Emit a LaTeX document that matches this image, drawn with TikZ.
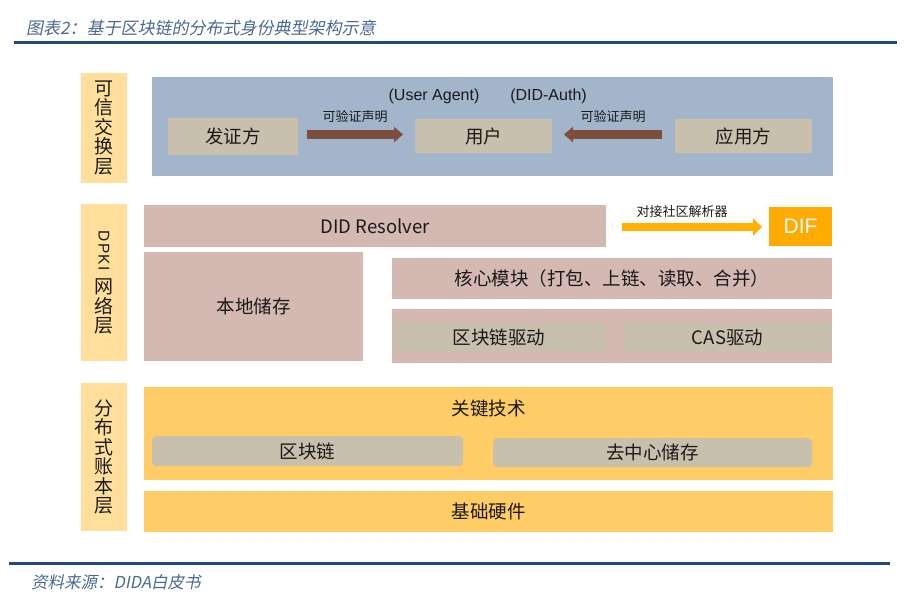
\documentclass[tikz,border=0pt]{standalone}
\usepackage{fontspec}
\usepackage{graphicx}
\setmainfont{Noto Sans CJK SC}
\newfontfamily\arialfont{Liberation Sans}
\newfontfamily\slantfont{Noto Sans CJK SC}[FakeSlant=0.2]
\usetikzlibrary{arrows.meta}
\definecolor{lblY}{HTML}{FFDF99}
\definecolor{blueBg}{HTML}{A3B5CB}
\definecolor{tanB}{HTML}{C8BFAD}
\definecolor{pinkB}{HTML}{D4B8B2}
\definecolor{brownA}{HTML}{7D4E3E}
\definecolor{orangeA}{HTML}{FFB000}
\definecolor{difO}{HTML}{FFAA00}
\definecolor{yelB}{HTML}{FFCC66}
\definecolor{navyL}{HTML}{1F497D}
\definecolor{titleC}{HTML}{4A6890}
\definecolor{txtC}{HTML}{1A1A1A}
\tikzset{
  box/.style={draw=none, inner sep=0pt, outer sep=0pt, text=txtC, font=\fontsize{18.5}{20}\selectfont},
  layerlbl/.style={box, fill=lblY, align=center, font=\fontsize{19}{19.5}\selectfont},
  smalllbl/.style={inner sep=0pt, text=txtC, font=\fontsize{13}{14}\selectfont},
  enlbl/.style={inner sep=0pt, text=txtC, font=\arialfont\fontsize{16}{18}\selectfont},
  brownarrow/.style={draw=brownA, line width=9pt, -{Triangle[width=15pt,length=9pt]}},
  orangearrow/.style={draw=orangeA, line width=8pt, -{Triangle[width=17pt,length=9pt]}},
  rule/.style={draw=navyL, line width=3pt}
}
\begin{document}
\begin{tikzpicture}[x=1pt,y=-1pt]
\useasboundingbox (0,0) rectangle (907,597);
% title and rules
\node[anchor=west, inner sep=0pt, text=titleC, font=\slantfont\fontsize{17}{18}\selectfont] (title) at (26,28) {图表2：基于区块链的分布式身份典型架构示意};
\draw[rule] (14,42) -- (897,42);
\draw[rule] (9,563) -- (890,563);
\node[anchor=west, inner sep=0pt, text=titleC, font=\slantfont\fontsize{16.5}{18}\selectfont] (src) at (31,582) {资料来源：DIDA白皮书};

% layer labels
\node[layerlbl, minimum width=46pt, minimum height=110pt] (L1) at (104,128) {可\\信\\交\\换\\层};
\node[layerlbl, minimum width=46pt, minimum height=157pt] (L2) at (104,282.5) {\rotatebox[origin=c]{-90}{\arialfont\fontsize{15.5}{16}\selectfont D\kern1.5pt P\kern1.5pt K\kern1.5pt I}\\[7pt]网\\络\\层};
\node[layerlbl, minimum width=46pt, minimum height=148pt] (L3) at (104,457) {分\\布\\式\\账\\本\\层};

% trusted exchange layer
\node[box, fill=blueBg, minimum width=681pt, minimum height=99pt] (blue) at (492.5,126.5) {};
\node[box, fill=tanB, minimum width=130pt, minimum height=37pt] (fz) at (233,136) {发证方};
\node[box, fill=tanB, minimum width=137pt, minimum height=34pt] (yh) at (483.5,136) {用户};
\node[box, fill=tanB, minimum width=137pt, minimum height=34pt] (yy) at (743.5,136) {应用方};
\node[enlbl] (ua) at (434,96) {(User Agent)};
\node[enlbl] (da) at (548.5,96) {(DID-Auth)};
\draw[brownarrow] ([xshift=9pt,yshift=1.5pt]fz.east) -- ([xshift=-12pt,yshift=1.5pt]yh.west)
  node[smalllbl, midway, yshift=17.5pt] (vc1) {可验证声明};
\draw[brownarrow] ([xshift=-13pt,yshift=1.5pt]yy.west) -- ([xshift=12pt,yshift=1.5pt]yh.east)
  node[smalllbl, midway, yshift=17.5pt] (vc2) {可验证声明};

% DPKI layer
\node[box, fill=pinkB, minimum width=462pt, minimum height=42pt] (did) at (375,226) {DID Resolver};
\node[box, fill=difO, minimum width=63pt, minimum height=39pt, text=white, font=\arialfont\fontsize{21}{22}\selectfont] (dif) at (800.5,226.5) {DIF};
\draw[orangearrow] ([xshift=16pt,yshift=-1pt]did.east) -- ([xshift=-7pt,yshift=-0.5pt]dif.west)
  node[smalllbl, pos=0.43, yshift=15pt] (jx) {对接社区解析器};
\node[box, fill=pinkB, minimum width=219pt, minimum height=109pt] (bd) at (253.5,306.5) {本地储存};
\node[box, fill=pinkB, minimum width=440pt, minimum height=41pt] (core) at (612,278.5) {核心模块（打包、上链、读取、合并）};
\node[box, fill=pinkB, minimum width=440pt, minimum height=54pt] (drv) at (612,336) {};
\node[box, fill=tanB, minimum width=212pt, minimum height=29pt] (bcd) at (499,337.5) {区块链驱动};
\node[box, fill=tanB, minimum width=209pt, minimum height=29pt] (cas) at (727.5,337.5) {CAS驱动};

% ledger layer
\node[box, fill=yelB, minimum width=689pt, minimum height=93pt] (gj) at (488.5,433.5) {};
\node[box] (gjt) at (488.5,408) {关键技术};
\node[box, fill=tanB, rounded corners=4pt, minimum width=311pt, minimum height=30pt] (qkl) at (307.5,451) {区块链};
\node[box, fill=tanB, rounded corners=4pt, minimum width=319pt, minimum height=29pt] (qzx) at (652.5,452.5) {去中心储存};
\node[box, fill=yelB, minimum width=689pt, minimum height=41pt] (hw) at (488.5,511.5) {基础硬件};
\end{tikzpicture}
\end{document}
